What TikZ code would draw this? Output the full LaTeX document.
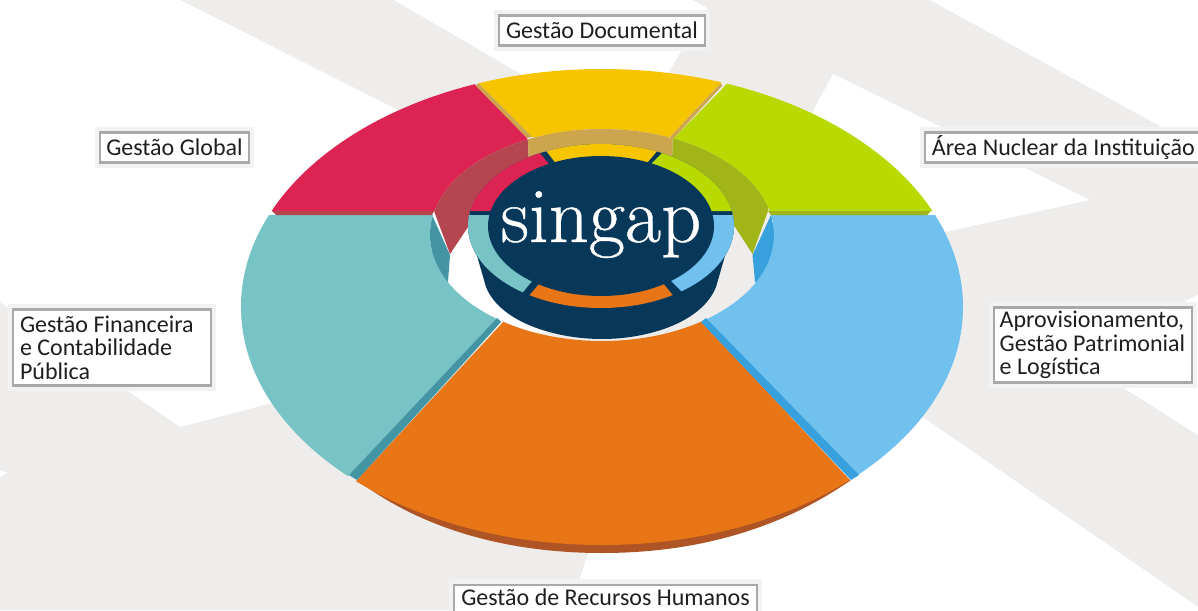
\documentclass[tikz,border=0pt]{standalone}
\usepackage{fontspec}
\newfontfamily\lblfont{Carlito}
\newfontfamily\logofont[FakeBold=0.5]{Latin Modern Roman}
\definecolor{bggray}{HTML}{EEEDEC}
\definecolor{cyellow}{HTML}{F7C400}
\definecolor{ctan}{HTML}{CDA54F}
\definecolor{cred}{HTML}{DC2352}
\definecolor{credw}{HTML}{B5464F}
\definecolor{clime}{HTML}{B8DA00}
\definecolor{climew}{HTML}{A2B518}
\definecolor{cteal}{HTML}{78C3C5}
\definecolor{ctealw}{HTML}{4395A4}
\definecolor{cblue}{HTML}{71C1EE}
\definecolor{cbluew}{HTML}{38A1DD}
\definecolor{corange}{HTML}{E87617}
\definecolor{corangew}{HTML}{AE5425}
\definecolor{cnavy}{HTML}{07385A}
\definecolor{cborder}{HTML}{A9A9A9}
\def\outerE{(602,307) ellipse [x radius=361,y radius=238]}
\def\innerE{(602,235) ellipse [x radius=172,y radius=106]}
\def\ringE{(601,226) ellipse [x radius=133,y radius=82]}
\def\diskE{(601,226) ellipse [x radius=113,y radius=70]}
\newcommand{\facepart}[2]{\begin{scope}\clip #1;\fill[#2,even odd rule] \outerE \innerE;\end{scope}}
\newcommand{\wallpart}[2]{\begin{scope}\clip #1;\fill[#2,even odd rule] \innerE \ringE;\end{scope}}
\newcommand{\ringpart}[2]{\begin{scope}\clip #1;\fill[#2] \ringE;\end{scope}}
\tikzset{
  lbltext/.style={inner sep=0pt,font=\lblfont\fontsize{18}{17.6}\selectfont,text=black!88},
  lblbox/.style 2 args={lbltext,draw=cborder,line width=1.9pt,fill=white,
    minimum width=#1*0.75pt,minimum height=#2*0.75pt,
    preaction={draw=black!5,line width=8pt}},
}
\begin{document}
\begin{tikzpicture}[x=0.75pt,y=-0.75pt]
\useasboundingbox (0,0) rectangle (1198,610);
\clip (0,0) rectangle (1198,610);
% background
\fill[bggray] (0,0) rectangle (1198,610);
\fill[white] (0,0) -- (180,0) -- (600,212) -- (600,318) -- (272,403) -- (180,427) -- (0,302) -- cycle;
\fill[white] (394,0) -- (692,0) -- (707,8) -- (640,120) -- (600,120) -- cycle;
\fill[white] (833,74) -- (1090,200) -- (945,232) -- (800,270) -- (770,191) -- cycle;
\fill[white] (930,0) -- (1198,147) -- (1198,0) -- cycle;
\fill[white] (1198,295) -- (1187,300) -- (1119,350) -- (1119,385) -- (1198,435) -- cycle;
\fill[white] (570,610) -- (588,553) -- (640,420) -- (900,400) -- (924,418) -- (1198,607) -- (1198,610) -- cycle;
\fill[white] (0,470) -- (7,473) -- (0,477) -- cycle;
% orange rim
\fill[corangew] (357,480) .. controls (430,535) and (520,553) .. (602,553) .. controls (684,553) and (772,535) .. (851,480) -- cycle;
% faces
\facepart{(504,321) -- (701,321) -- (925,560) -- (283,560) -- cycle}{corange}
\facepart{(200,215) -- (560,215) -- (560,277) -- (497,318) -- (300,527) -- (200,527) -- cycle}{cteal}
\facepart{(1003,215) -- (640,215) -- (640,277) -- (706,318) -- (905,527) -- (1003,527) -- cycle}{cblue}
\fill[ctealw] (497,318) -- (501,322) -- (357,480) -- (349,475) -- cycle;
\fill[cbluew] (706,318) -- (701,322) -- (851,480) -- (859,475) -- cycle;
\facepart{(200,211) -- (200,40) -- (432,40) -- (527,138) -- (527,211) -- cycle}{cred}
\facepart{(1003,211) -- (1003,40) -- (770,40) -- (673,139) -- (673,211) -- cycle}{clime}
\fill[credw] (272,211) -- (434,211) -- (432,215) -- (276,215) -- cycle;
\fill[climew] (931,211) -- (768,211) -- (771,215) -- (927,215) -- cycle;
% inner dark walls under the faces
\begin{scope}\clip \innerE;
\fill[ctealw] (432,215) -- (450,255) -- (448,282) -- (420,282) -- cycle;
\fill[cbluew] (771,215) -- (752.5,255) -- (755,282) -- (785,282) -- cycle;
\end{scope}
% raised walls
\wallpart{(527,120) -- (529,165) -- (490,215) -- (468,227) -- (450,254) -- (434,211) -- (420,120) -- cycle}{credw}
\wallpart{(673,120) -- (672,165) -- (712,215) -- (735,227) -- (752.5,254) -- (768,211) -- (785,120) -- cycle}{climew}
% yellow sector
\facepart{(450,55) -- (747,55) -- (670,137) -- (532,137) -- cycle}{cyellow}
\fill[ctan] (478,83) -- (532,137) -- (527,138) -- (476,86) -- cycle;
\fill[ctan] (721,83) -- (670,137) -- (673,139) -- (722,86) -- cycle;
\wallpart{(527,120) -- (529,165) -- (672,165) -- (673,120) -- cycle}{ctan}
% central cylinder
\fill[cnavy] (469,228) -- (486,287) .. controls (500,322) and (555,339) .. (602,339) .. controls (649,339) and (702,322) .. (716,287) -- (733,228) -- cycle;
\fill[cnavy] \ringE;
\ringpart{(455,211) -- (570,211) -- (570,190) -- (530,141) -- (455,141) -- cycle}{cred}
\ringpart{(540,143) -- (561,170) -- (641,170) -- (664,143) -- cycle}{cyellow}
\ringpart{(748,211) -- (625,211) -- (625,190) -- (675,140) -- (748,140) -- cycle}{clime}
\ringpart{(455,215) -- (560,215) -- (560,247) -- (510,308) -- (455,308) -- cycle}{cteal}
\ringpart{(748,215) -- (642,215) -- (642,252) -- (698,308) -- (748,308) -- cycle}{cblue}
\ringpart{(550,271) -- (653,271) -- (685,310) -- (517,310) -- cycle}{corange}
\fill[cnavy] \diskE;
\node[anchor=base,white,font=\logofont\fontsize{59}{59}\selectfont,inner sep=0pt] (logo) at (601,242) {singap};
% labels
\node[lblbox={206}{30}] (doc) at (602,30.5) {Gestão Documental};
\node[lblbox={149}{30}] (glob) at (174.5,147.5) {Gestão Global};
\node[lblbox={290}{30}] (nuc) at (1070,147.5) {\hspace*{-10pt}Área Nuclear da Instituição};
\node[lblbox={198}{75},text width=140pt,align=flush left] (apr) at (1093,345) {Aprovisionamento,\\Gestão Patrimonial\\e Logística};
\node[lblbox={198}{76},text width=138pt,align=flush left] (fin) at (112,347.5) {Gestão Financeira\\e Contabilidade\\Pública};
\node[lblbox={303}{30},anchor=north] (rhbox) at (605.5,583.5) {};
\node[lbltext] (rh) at (605.5,597.5) {Gestão de Recursos Humanos};
\end{tikzpicture}
\end{document}
